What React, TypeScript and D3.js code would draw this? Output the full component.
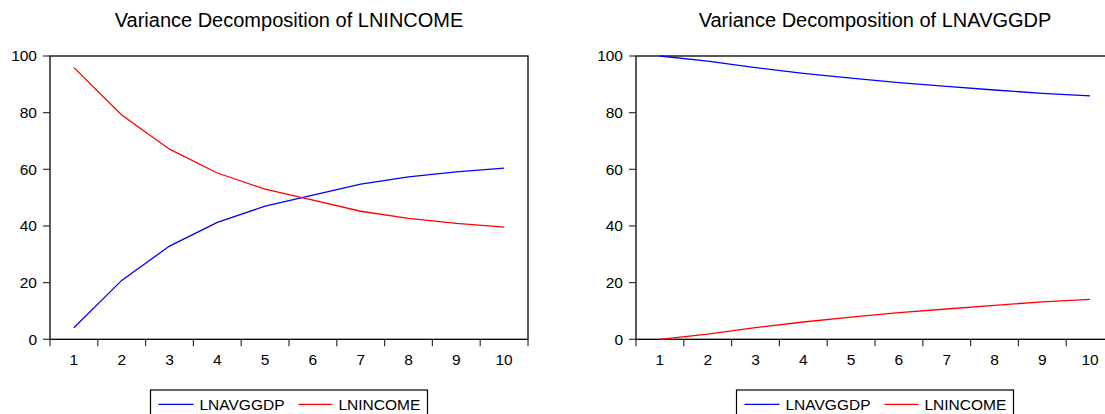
import React from "react";
import * as d3 from "d3";

const periods = ["1", "2", "3", "4", "5", "6", "7", "8", "9", "10"];
const yTicks = [0, 20, 40, 60, 80, 100];
const seriesNames = ["LNAVGGDP", "LNINCOME"];
const seriesColors = ["#0000ff", "#ff0000"];

// Variance Decomposition of LNINCOME
const incomeByGdp = [4.1, 20.8, 32.9, 41.3, 47.0, 50.9, 54.8, 57.3, 59.1, 60.4];
const incomeByIncome = [95.9, 79.2, 67.1, 58.7, 53.0, 49.1, 45.2, 42.7, 40.9, 39.6];

// Variance Decomposition of LNAVGGDP
const gdpByGdp = [100, 98.2, 95.9, 93.9, 92.2, 90.6, 89.3, 88.0, 86.8, 85.9];
const gdpByIncome = [0, 1.8, 4.1, 6.1, 7.8, 9.4, 10.7, 12.0, 13.2, 14.1];

const titles = ["Variance Decomposition of LNINCOME", "Variance Decomposition of LNAVGGDP"];

const FONT = "Arial, 'Liberation Sans', Helvetica, sans-serif";

function Panel({ left, title, series }: { left: number; title: string; series: number[][] }) {
  const width = 478;
  const top = 56;
  const bottom = 339.3;
  const x = d3.scaleBand<string>().domain(periods).range([left, left + width]).padding(0);
  const y = d3.scaleLinear().domain([0, 100]).range([bottom, top]);
  const line = d3
    .line<number>()
    .x((_, i) => (x(periods[i]) as number) + x.bandwidth() / 2)
    .y((d) => y(d));
  const boundaries = periods.map((p) => x(p) as number).concat([left + width]);
  const cx = left + width / 2;
  const legendW = 277;
  const lx = cx - legendW / 2;
  return (
    <g>
      <text x={cx} y={27} textAnchor="middle" fontSize={20} fill="#000">
        {title}
      </text>
      <rect x={left} y={top} width={width} height={bottom - top} fill="none" stroke="#000" strokeWidth={1.3} />
      {yTicks.map((t) => (
        <g key={"y" + t}>
          <line x1={left - 7} x2={left} y1={y(t)} y2={y(t)} stroke="#333" strokeWidth={1.2} />
          <text x={left - 13} y={y(t)} dy="0.35em" textAnchor="end" fontSize={15.5} fill="#000">
            {t}
          </text>
        </g>
      ))}
      {boundaries.map((b, i) => (
        <line key={"xt" + i} x1={b} x2={b} y1={bottom} y2={bottom + 7} stroke="#333" strokeWidth={1.2} />
      ))}
      {periods.map((p) => (
        <text key={"xl" + p} x={(x(p) as number) + x.bandwidth() / 2} y={365} textAnchor="middle" fontSize={15.5} fill="#000">
          {p}
        </text>
      ))}
      {series.map((s, i) => (
        <path key={"s" + i} d={line(s) || ""} fill="none" stroke={seriesColors[i]} strokeWidth={1.3} />
      ))}
      <rect x={lx} y={390} width={legendW} height={34} fill="#fff" stroke="#000" strokeWidth={1.2} />
      <line x1={lx + 8} x2={lx + 43} y1={404.3} y2={404.3} stroke={seriesColors[0]} strokeWidth={1.3} />
      <text x={lx + 49} y={410} fontSize={15.5} fill="#000">
        {seriesNames[0]}
      </text>
      <line x1={lx + 148} x2={lx + 182} y1={404.3} y2={404.3} stroke={seriesColors[1]} strokeWidth={1.3} />
      <text x={lx + 188} y={410} fontSize={15.5} fill="#000">
        {seriesNames[1]}
      </text>
    </g>
  );
}

export default function App() {
  return (
    <svg
      width={1105}
      height={414}
      style={{ position: "absolute", left: 0, top: 0, background: "#fff" }}
      fontFamily={FONT}
    >
      <rect x={0} y={0} width={1105} height={414} fill="#fff" />
      <Panel left={50} title={titles[0]} series={[incomeByGdp, incomeByIncome]} />
      <Panel left={636} title={titles[1]} series={[gdpByGdp, gdpByIncome]} />
    </svg>
  );
}
